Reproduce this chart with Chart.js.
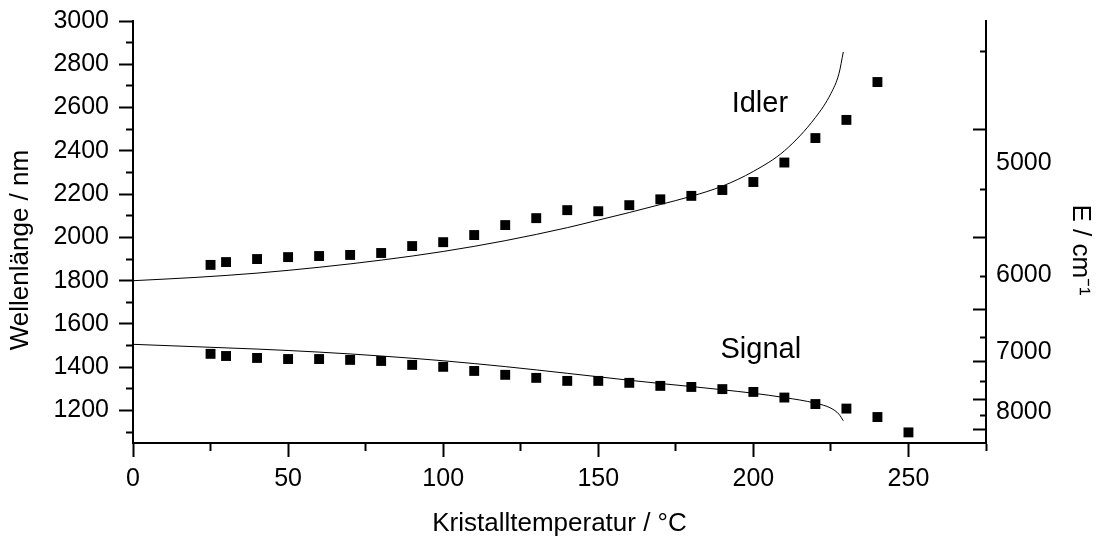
<!DOCTYPE html>
<html lang="de">
<head>
  <meta charset="UTF-8">
  <title>Wellenlänge vs. Kristalltemperatur</title>
  <script src="https://cdn.jsdelivr.net/npm/chart.js"></script>
  <style>
    html, body { margin: 0; padding: 0; background: #fff; }
    #wrap { width: 1107px; height: 539px; }
  </style>
</head>
<body>
  <div id="wrap"><canvas id="chart"></canvas></div>

  <script>
    // Measured wavelengths (squares)
    const idlerTemp = [25, 30, 40, 50, 60, 70, 80, 90, 100, 110, 120, 130, 140, 150, 160, 170, 180, 190, 200, 210, 220, 230, 240];
    const idlerMeas = [1873, 1886, 1900, 1909, 1914, 1919, 1928, 1960, 1978, 2011, 2057, 2089, 2126, 2121, 2149, 2176, 2192, 2219, 2256, 2346, 2459, 2543, 2718];
    const signalTemp = [25, 30, 40, 50, 60, 70, 80, 90, 100, 110, 120, 130, 140, 150, 160, 170, 180, 190, 200, 210, 220, 230, 240, 250];
    const signalMeas = [1462, 1452, 1443, 1438, 1438, 1434, 1429, 1411, 1402, 1383, 1365, 1351, 1337, 1337, 1328, 1314, 1309, 1299, 1286, 1260, 1230, 1209, 1170, 1099];

    // Calculated curves (thin lines)
    const calcTemp = [0, 20, 40, 60, 80, 100, 120, 140, 150, 160, 170, 180, 190, 200, 210, 220, 225, 227.6, 229];
    const idlerCalc = [1800, 1815, 1835, 1862, 1895, 1935, 1985, 2045, 2080, 2115, 2152, 2190, 2237, 2305, 2400, 2554, 2665, 2757, 2857];
    const signalCalc = [1506, 1495, 1484, 1470, 1452, 1430, 1403, 1372, 1356, 1340, 1325, 1311, 1296, 1280, 1260, 1234, 1211, 1183, 1153];

    // Axis ticks
    const xMajor = [0, 50, 100, 150, 200, 250];
    const xMinor = [25, 75, 125, 175, 225, 275];
    const yMajor = [1200, 1400, 1600, 1800, 2000, 2200, 2400, 2600, 2800, 3000];
    const yMinor = [1100, 1300, 1500, 1700, 1900, 2100, 2300, 2500, 2700, 2900];
    const eMajor = [4000, 5000, 6000, 7000, 8000, 9000];   // cm^-1
    const eMinor = [3500, 4500, 5500, 6500, 7500, 8500];
    const eLabels = ['5000', '6000', '7000', '8000'];
    const eLabelAt = [2342, 1826, 1472, 1195];              // nm, where the labels sit

    // Text labels in the plot
    const noteText = ['Idler', 'Signal'];
    const noteX = [193, 189.4];
    const noteY = [2580, 1442];

    const FONT = '"Liberation Sans", Arial, sans-serif';
    Chart.defaults.font.family = FONT;
    Chart.defaults.color = '#000';

    const notes = {
      id: 'notes',
      afterDatasetsDraw(chart) {
        const { ctx, scales: { x, y } } = chart;
        ctx.save();
        ctx.font = '29px ' + FONT;
        ctx.fillStyle = '#000';
        ctx.textBaseline = 'alphabetic';
        noteText.forEach((t, i) => {
          ctx.fillText(t, x.getPixelForValue(noteX[i]), y.getPixelForValue(noteY[i]));
        });
        ctx.restore();
      }
    };

    // keep the plot box where it is; labels may hang over the edge
    const noPad = s => { s.paddingTop = 0; s.paddingBottom = 0; };

    const ctx = document.getElementById('chart').getContext('2d');
    new Chart(ctx, {
      type: 'scatter',
      data: {
        datasets: [
          {
            label: 'Idler gemessen',
            data: idlerTemp.map((t, i) => ({ x: t, y: idlerMeas[i] })),
            pointStyle: 'rect', pointRadius: 7, pointHoverRadius: 7,
            backgroundColor: '#000', borderWidth: 0
          },
          {
            label: 'Signal gemessen',
            data: signalTemp.map((t, i) => ({ x: t, y: signalMeas[i] })),
            pointStyle: 'rect', pointRadius: 7, pointHoverRadius: 7,
            backgroundColor: '#000', borderWidth: 0
          },
          {
            label: 'Idler berechnet',
            data: calcTemp.map((t, i) => ({ x: t, y: idlerCalc[i] })),
            showLine: true, pointRadius: 0, borderColor: '#000', borderWidth: 1,
            cubicInterpolationMode: 'monotone'
          },
          {
            label: 'Signal berechnet',
            data: calcTemp.map((t, i) => ({ x: t, y: signalCalc[i] })),
            showLine: true, pointRadius: 0, borderColor: '#000', borderWidth: 1,
            cubicInterpolationMode: 'monotone'
          }
        ]
      },
      options: {
        responsive: true,
        maintainAspectRatio: false,
        animation: false,
        layout: { padding: { top: 21, left: 0, right: 0, bottom: 0 } },
        plugins: {
          legend: { display: false },
          tooltip: { enabled: false }
        },
        scales: {
          x: {
            type: 'linear', position: 'bottom', min: 0, max: 275,
            afterBuildTicks: s => {
              s.ticks = [...xMajor, ...xMinor].sort((a, b) => a - b).map(v => ({ value: v }));
            },
            afterFit: s => { s.height = 96; },
            ticks: {
              autoSkip: false, maxRotation: 0, padding: 7,
              font: { size: 25 },
              callback: v => xMajor.includes(v) ? String(v) : ''
            },
            grid: {
              drawOnChartArea: false, tickLength: 14, tickWidth: 2, tickColor: '#000',
              tickBorderDash: c => xMajor.includes(c.tick.value) ? [] : [7, 14],
              tickBorderDashOffset: 0
            },
            border: { display: true, color: '#000', width: 2 },
            title: {
              display: true, text: 'Kristalltemperatur / °C',
              font: { size: 26 }, padding: { top: 0, bottom: 0 }
            }
          },
          y: {
            type: 'linear', position: 'left', min: 1050, max: 3000,
            afterBuildTicks: s => {
              s.ticks = [...yMajor, ...yMinor].sort((a, b) => a - b).map(v => ({ value: v }));
            },
            afterFit: s => { s.width = 133; noPad(s); },
            ticks: {
              autoSkip: false, padding: 10,
              font: { size: 25 },
              callback: v => yMajor.includes(v) ? String(v) : ''
            },
            grid: {
              drawOnChartArea: false, tickLength: 14, tickWidth: 2, tickColor: '#000',
              tickBorderDash: c => yMajor.includes(c.tick.value) ? [] : [7, 7],
              tickBorderDashOffset: c => yMajor.includes(c.tick.value) ? 0 : 7
            },
            border: { display: true, color: '#000', width: 2 },
            title: {
              display: true, text: 'Wellenlänge / nm     ',
              font: { size: 26 }, padding: { top: 5, bottom: 0 }
            }
          },
          y2: {
            type: 'linear', position: 'right', min: 1050, max: 3000,
            afterBuildTicks: s => {
              const t = [];
              eMajor.forEach(k => t.push({ value: 1e7 / k, kind: 'major' }));
              eMinor.forEach(k => t.push({ value: 1e7 / k, kind: 'minor' }));
              eLabelAt.forEach((v, i) => t.push({ value: v, kind: 'label', text: eLabels[i] }));
              s.ticks = t.sort((a, b) => a.value - b.value);
            },
            afterFit: s => { s.width = 121; noPad(s); },
            ticks: {
              autoSkip: false, padding: 23,
              font: { size: 25 },
              callback: (v, i, ticks) => ticks[i].kind === 'label' ? ticks[i].text : ''
            },
            grid: {
              drawOnChartArea: false, tickLength: -13, tickWidth: 2,
              tickColor: c => c.tick && c.tick.kind === 'label' ? 'rgba(0,0,0,0)' : '#000',
              tickBorderDash: c => c.tick && c.tick.kind === 'minor' ? [7, 20] : []
            },
            border: { display: true, color: '#000', width: 2 },
            title: {
              display: true, text: '     E / cm⁻¹',
              font: { size: 26 }, padding: { top: 11, bottom: 0 }
            }
          }
        }
      },
      plugins: [notes]
    });
  </script>
</body>
</html>
